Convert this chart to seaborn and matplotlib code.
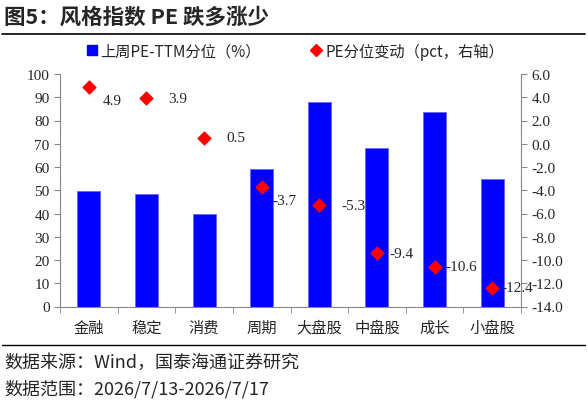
import matplotlib
matplotlib.use("Agg")
import matplotlib.pyplot as plt
from matplotlib.lines import Line2D
import seaborn as sns
import pandas as pd

# data
styles = ['金融', '稳定', '消费', '周期', '大盘股', '中盘股', '成长', '小盘股']
pe_pct = [49.5, 48.2, 40.0, 59.1, 88.1, 68.0, 83.5, 54.7]
pe_change = [4.9, 3.9, 0.5, -3.7, -5.3, -9.4, -10.6, -12.4]
# label offsets in pixels (dx, dy) for the diamond annotations
label_off = [(14, -14), (22, 0), (22, 0), (11, -14), (22, 0), (12, 0), (11, 0), (9, 0)]

sns.set_style("white")
CJK = ['Noto Sans CJK SC', 'DejaVu Sans']
SERIF = ['Liberation Serif', 'Noto Sans CJK SC']
plt.rcParams['font.family'] = SERIF

df = pd.DataFrame({'style': styles, 'pe': pe_pct, 'chg': pe_change})

fig = plt.figure(figsize=(5.88, 4.02), dpi=100)
ax = fig.add_axes([60 / 588, 1 - 307.5 / 402, 461 / 588, 232.5 / 402])

sns.barplot(data=df, x='style', y='pe', ax=ax, color='#0000FF', width=0.4,
            saturation=1, edgecolor='#6666ff', linewidth=0.6)
ax.set_ylim(0, 100)
ax.set_yticks(range(0, 101, 10))
ax.set_xlim(-0.5, len(styles) - 0.5)
ax.set_xlabel('')
ax.set_ylabel('')

ax2 = ax.twinx()
ax2.scatter(range(len(styles)), df['chg'], marker='D', s=42, color='#FF0000', zorder=5)
ax2.set_ylim(-14, 6)
ax2.set_yticks(range(-14, 7, 2))
ax2.set_yticklabels([f'{v:.1f}' for v in range(-14, 7, 2)])
for i, (v, off) in enumerate(zip(pe_change, label_off)):
    ax2.annotate(f'{v:.1f}', (i, v), xytext=off, textcoords='offset pixels',
                 ha='left', va='center', fontsize=11, family=SERIF)

# spines / ticks
for a in (ax, ax2):
    for s in a.spines.values():
        s.set_visible(False)
ax.spines['left'].set_visible(True)
ax.spines['bottom'].set_visible(True)
ax2.spines['right'].set_visible(True)
for s in ('left', 'bottom'):
    ax.spines[s].set_color('#888888')
ax2.spines['right'].set_color('#888888')

ax.set_xticks([i - 0.5 for i in range(len(styles) + 1)], minor=True)
ax.set_xticks(range(len(styles)))
ax.set_xticklabels(styles, family=CJK, fontsize=11)
ax.tick_params(axis='x', which='major', length=0, pad=9)
ax.tick_params(axis='x', which='minor', length=4, color='#888888', direction='out', bottom=True)
ax.tick_params(axis='y', length=4, color='#888888', direction='out', left=True, labelsize=11)
ax2.tick_params(axis='y', length=4, color='#888888', direction='out', right=True, labelsize=11)

# legend
handles = [
    Line2D([], [], marker='s', color='#0000FF', linestyle='none', markersize=7),
    Line2D([], [], marker='D', color='#FF0000', linestyle='none', markersize=6),
]
fig.legend(handles, ['上周PE-TTM分位（%）', 'PE分位变动（pct，右轴）'],
           loc='center', bbox_to_anchor=(0.5, 1 - 52 / 402), ncol=2, frameon=False,
           prop={'family': CJK, 'size': 11}, handletextpad=0.1, columnspacing=3.1,
           handlelength=1.0)

# title and source lines
fig.text(4 / 588, 1 - 17 / 402, '图5：风格指数 PE 跌多涨少', family=CJK, fontsize=15.5,
         fontweight='bold', va='center', ha='left')
fig.add_artist(Line2D([2 / 588, 585 / 588], [1 - 35 / 402] * 2, color='black', lw=1.2))
fig.add_artist(Line2D([2 / 588, 585 / 588], [1 - 346 / 402] * 2, color='black', lw=1.0))
fig.text(4 / 588, 1 - 363 / 402, '数据来源：Wind，国泰海通证券研究', family=CJK, fontsize=13,
         va='center', ha='left')
fig.text(4 / 588, 1 - 389 / 402, '数据范围：2026/7/13-2026/7/17', family=CJK, fontsize=13,
         va='center', ha='left')

fig.savefig('out.png', dpi=100)
